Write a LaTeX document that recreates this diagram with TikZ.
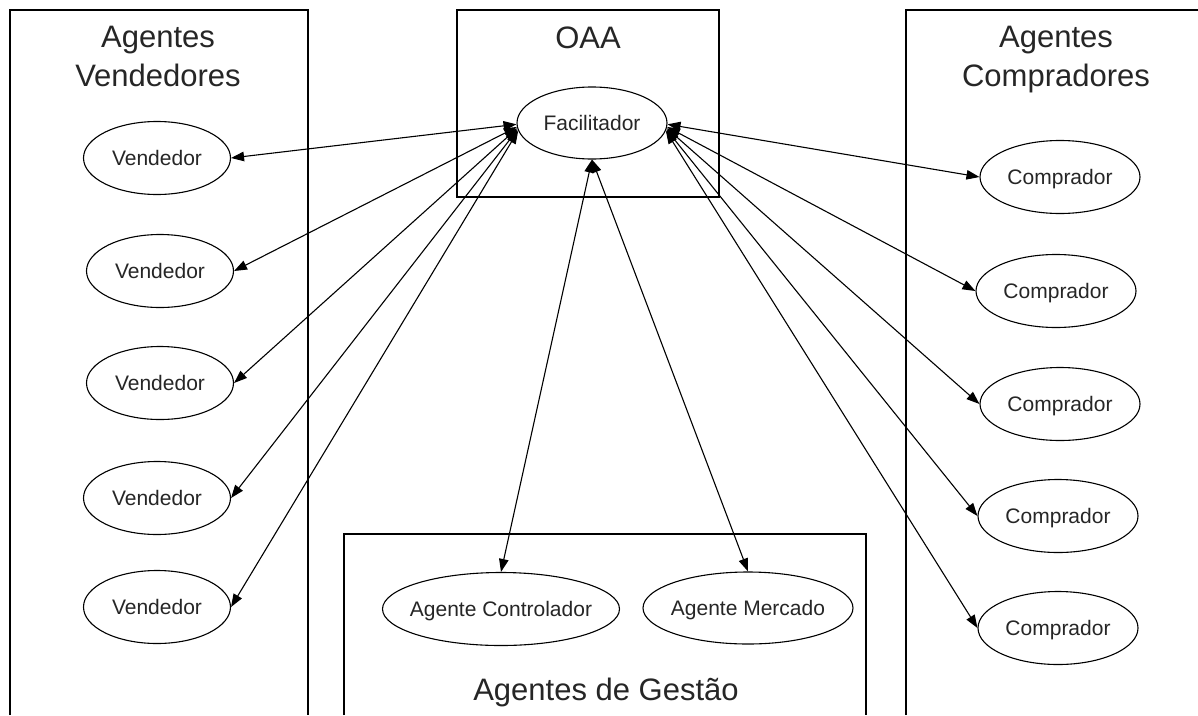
\documentclass[tikz,border=0pt]{standalone}
\usepackage{fontspec}
\setmainfont{Liberation Sans}
\usetikzlibrary{shapes.geometric,arrows.meta}

\begin{document}
\begin{tikzpicture}[x=1pt,y=-1pt,
  frame/.style={line width=1.3pt, draw=black},
  agent/.style={ellipse, draw, line width=1.1pt, inner sep=0pt,
    font=\fontsize{21}{24}\selectfont, text=black!85,
    text height=15pt, text depth=0pt},
  title/.style={font=\fontsize{31}{39}\selectfont, text=black!85,
    align=center, inner sep=0pt},
  link/.style={line width=1.1pt,
    {Triangle[length=13pt,width=9.5pt]}-{Triangle[length=13pt,width=9.5pt]}},
]
\useasboundingbox (0,0) rectangle (1198,715);
\fill[white] (0,0) rectangle (1198,715);

% containers (open at the bottom / right edge)
\draw[frame] (10,715) -- (10,10) -- (308,10) -- (308,715);
\draw[frame] (457,10) rectangle (719,197);
\draw[frame] (906,715) -- (906,10) -- (1199,10);
\draw[frame] (344,715) -- (344,534) -- (866,534) -- (866,715);

% container titles
\node[title, anchor=north] (tv) at (158,26) {Agentes\\Vendedores};
\node[title, anchor=north] (tc) at (1056,26) {Agentes\\Compradores};
\node[title, anchor=base] (toaa) at (588,48) {OAA};
\node[title, anchor=base] (tg) at (606,700) {Agentes de Gestão};

% facilitator
\node[agent, minimum width=150pt, minimum height=72pt] (fac) at (592,123) {Facilitador};

% sellers
\foreach \i/\x/\y in {1/157/158, 2/160/271, 3/160/383, 4/157/498, 5/157/607}
  \node[agent, minimum width=147pt, minimum height=73pt] (v\i) at (\x,\y) {Vendedor};

% buyers
\foreach \i/\x/\y in {1/1060/177, 2/1056/291, 3/1060/404, 4/1058/516, 5/1058/628}
  \node[agent, minimum width=160pt, minimum height=73pt] (c\i) at (\x,\y) {Comprador};

% management agents
\node[agent, minimum width=237pt, minimum height=73pt] (ac) at (501,609) {\makebox[0pt]{Agente Controlador}};
\node[agent, minimum width=210pt, minimum height=72pt] (am) at (748,608) {\makebox[0pt]{Agente Mercado}};

% links
\draw[link] (v1.east) -- (fac.181);
\draw[link] (v2.east) -- (fac.183);
\draw[link] (v3.east) -- (fac.184);
\draw[link] (v4.east) -- (fac.185);
\draw[link] (v5.east) -- (fac.186);
\draw[link] (c1.west) -- (fac.359);
\draw[link] (c2.west) -- (fac.357);
\draw[link] (c3.west) -- (fac.356);
\draw[link] (c4.west) -- (fac.355);
\draw[link] (c5.west) -- (fac.354);
\draw[link] (ac.north) -- (fac.south);
\draw[link] (am.north) -- (fac.south);
\end{tikzpicture}
\end{document}
